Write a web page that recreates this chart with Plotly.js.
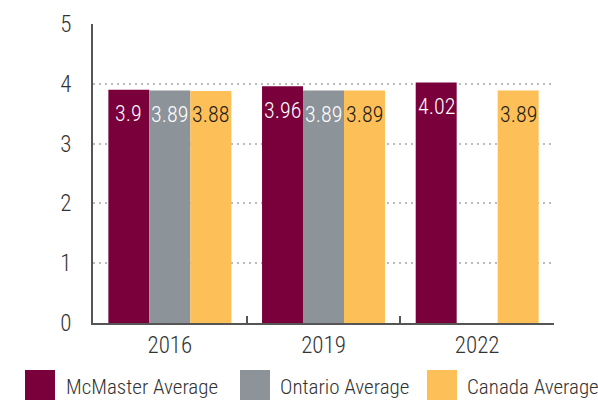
<!DOCTYPE html>
<html>
<head>
<meta charset="utf-8">
<script src="https://cdn.plot.ly/plotly-3.0.1.min.js"></script>
<style>html,body{margin:0;padding:0;background:#fff;}#chart{width:598px;height:400px;}</style>
</head>
<body>
<div id="chart"></div>
<script>
// ---- data ----
const years = ['2016', '2019', '2022'];
const mcmasterAvg = [3.9, 3.96, 4.02];
const ontarioAvg = [3.89, 3.89, null];
const canadaAvg = [3.88, 3.89, 3.89];
const seriesNames = ['McMaster Average', 'Ontario Average', 'Canada Average'];
const yTicks = [0, 1, 2, 3, 4, 5];

// ---- styles ----
const seriesValues = [mcmasterAvg, ontarioAvg, canadaAvg];
const colors = ['#7A003C', '#8C9399', '#FDBF57'];
const labelColors = ['#ffffff', '#ffffff', '#1a1a1a'];
const FONT = '"Roboto Condensed", sans-serif';
const WEIGHT = 300;

const W = 598, H = 400;
const M = {l: 93, r: 44, t: 24, b: 77};
const PW = W - M.l - M.r, PH = H - M.t - M.b;
const px2x = p => (p - M.l) / PW;
const py2y = p => (H - M.b - p) / PH;

const traces = seriesNames.map((name, i) => ({
  type: 'bar',
  name: name,
  x: years,
  y: seriesValues[i],
  marker: {color: colors[i]},
  showlegend: false
}));

// bar value labels, placed through data coordinates
const barW = PW / years.length * 0.8 / seriesNames.length;
const annotations = [];
seriesValues.forEach((vals, i) => {
  vals.forEach((v, j) => {
    if (v === null || v === undefined) return;
    annotations.push({
      x: j, y: v, xref: 'x', yref: 'y',
      text: String(v), showarrow: false,
      xshift: (i - 1) * barW, yshift: -24,
      yanchor: 'middle', xanchor: 'center',
      font: {family: FONT, weight: WEIGHT, size: 22, color: labelColors[i]}
    });
  });
});

// custom legend (large squares)
const legSquareLeft = [25, 240, 427];
const legTextLeft = [64, 278, 465];
const shapes = [];
seriesNames.forEach((name, i) => {
  shapes.push({
    type: 'rect', xref: 'paper', yref: 'paper',
    x0: px2x(legSquareLeft[i]), x1: px2x(legSquareLeft[i] + 30),
    y0: py2y(370), y1: py2y(402),
    fillcolor: colors[i], line: {width: 0}
  });
  annotations.push({
    xref: 'paper', yref: 'paper',
    x: px2x(legTextLeft[i]), y: py2y(387),
    xanchor: 'left', yanchor: 'middle', showarrow: false,
    text: name, font: {family: FONT, weight: WEIGHT, size: 21, color: '#333333'}
  });
});

const layout = {
  width: W, height: H,
  margin: M,
  paper_bgcolor: '#ffffff', plot_bgcolor: '#ffffff',
  barmode: 'group', bargap: 0.2, bargroupgap: 0,
  showlegend: false,
  font: {family: FONT, weight: WEIGHT, size: 22, color: '#333333'},
  xaxis: {
    type: 'category',
    categoryorder: 'array', categoryarray: years,
    range: [-0.5, years.length - 0.5], autorange: false,
    tickson: 'boundaries',
    ticks: 'inside', ticklen: 7, tickwidth: 2, tickcolor: '#555555',
    showline: true, linecolor: '#555555', linewidth: 2,
    showgrid: false, zeroline: false,
    tickangle: 0,
    tickfont: {family: FONT, weight: WEIGHT, size: 23, color: '#333333'}
  },
  yaxis: {
    range: [0, 5], autorange: false,
    tickvals: yTicks,
    ticks: '',
    showline: true, linecolor: '#555555', linewidth: 2,
    showgrid: true, gridcolor: '#bbbbbb', gridwidth: 2, griddash: '2px,4px',
    zeroline: false,
    ticklabelstandoff: 15,
    tickfont: {family: FONT, weight: WEIGHT, size: 23, color: '#333333'}
  },
  shapes: shapes,
  annotations: annotations
};

Plotly.newPlot('chart', traces, layout, {displayModeBar: false, staticPlot: true});
</script>
</body>
</html>
